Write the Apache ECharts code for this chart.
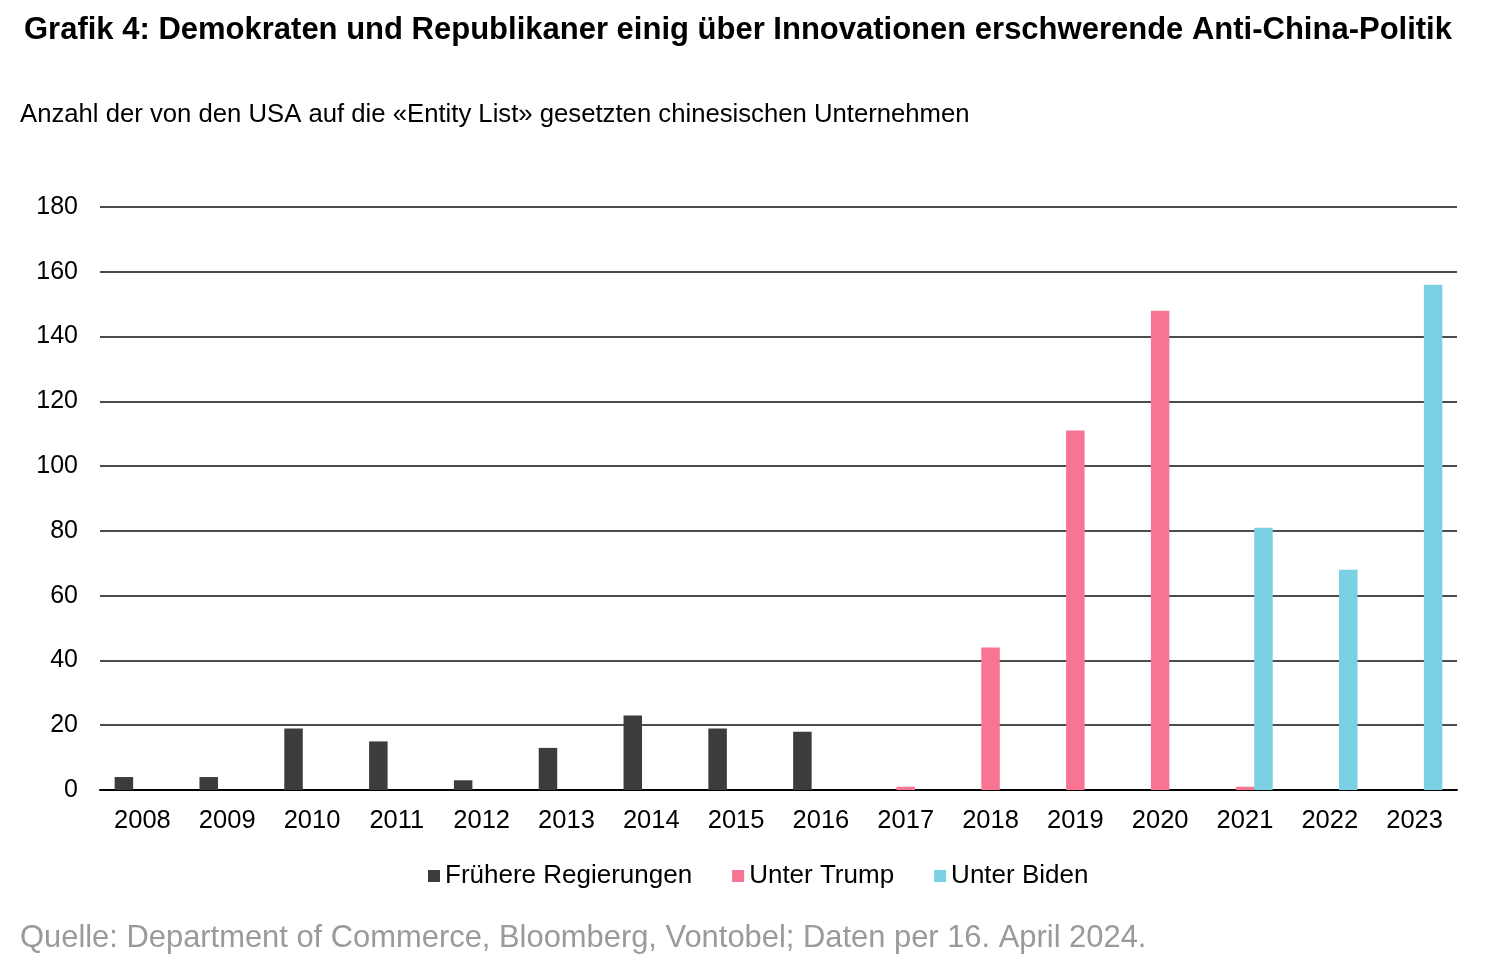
<!DOCTYPE html>
<html>
<head>
<meta charset="utf-8">
<script src="https://cdn.jsdelivr.net/npm/echarts@6/dist/echarts.min.js"></script>
<style>
  html, body { margin: 0; padding: 0; background: #fff; }
  #container { width: 1500px; height: 973px; }
</style>
</head>
<body>
<div id="container"></div>
<script>
// Jahre
var years = ['2008','2009','2010','2011','2012','2013','2014','2015','2016','2017','2018','2019','2020','2021','2022','2023'];
// Frühere Regierungen
var earlier = [4, 4, 19, 15, 3, 13, 23, 19, 18, '-', '-', '-', '-', '-', '-', '-'];
// Unter Trump
var trump = ['-', '-', '-', '-', '-', '-', '-', '-', '-', 1, 44, 111, 148, 1, '-', '-'];
// Unter Biden
var biden = ['-', '-', '-', '-', '-', '-', '-', '-', '-', '-', '-', '-', '-', 81, 68, 156];

var seriesNames = ['Frühere Regierungen', 'Unter Trump', 'Unter Biden'];
var colors = ['#3c3c3b', '#f77493', '#7bd0e3'];

var FONT = 'Liberation Sans, Arial, sans-serif';

var dom = document.getElementById('container');
var myChart = echarts.init(dom, null, { renderer: 'canvas' });

var option = {
    animation: false,
    color: colors,
    textStyle: { fontFamily: FONT },
    title: [
        {
            text: 'Grafik 4: Demokraten und Republikaner einig über Innovationen erschwerende Anti-China-Politik',
            left: 19, top: 10,
            textStyle: { fontFamily: FONT, fontSize: 31, fontWeight: 'bold', color: '#000' }
        },
        {
            text: 'Anzahl der von den USA auf die «Entity List» gesetzten chinesischen Unternehmen',
            left: 15, top: 97,
            textStyle: { fontFamily: FONT, fontSize: 25.7, fontWeight: 'normal', color: '#000' }
        },
        {
            text: 'Quelle: Department of Commerce, Bloomberg, Vontobel; Daten per 16. April 2024.',
            left: 15, top: 918,
            textStyle: { fontFamily: FONT, fontSize: 30.9, fontWeight: 'normal', color: '#9a9a9a' }
        }
    ],
    legend: {
        data: seriesNames,
        left: 423,
        top: 858,
        itemWidth: 12,
        itemHeight: 12,
        itemGap: 40,
        icon: 'rect',
        textStyle: { fontFamily: FONT, fontSize: 26, color: '#000' }
    },
    grid: {
        left: 100, right: 43, top: 207, bottom: 183,
        containLabel: false
    },
    xAxis: {
        type: 'category',
        data: years,
        axisLine: { show: true, lineStyle: { color: '#000', width: 2 } },
        axisTick: { show: false },
        axisLabel: { fontFamily: FONT, fontSize: 25.5, color: '#000', margin: 18 }
    },
    yAxis: {
        type: 'value',
        min: 0, max: 180, interval: 20,
        axisLine: { show: false },
        axisTick: { show: false },
        axisLabel: { fontFamily: FONT, fontSize: 25, color: '#000', margin: 22 },
        splitLine: { show: true, lineStyle: { color: '#111', width: 1.6 } }
    },
    series: [
        { name: seriesNames[0], type: 'bar', data: earlier, barWidth: 18.5, barGap: '0%', itemStyle: { color: colors[0] } },
        { name: seriesNames[1], type: 'bar', data: trump, barWidth: 18.5, barGap: '0%', itemStyle: { color: colors[1] } },
        { name: seriesNames[2], type: 'bar', data: biden, barWidth: 18.5, barGap: '0%', itemStyle: { color: colors[2] } }
    ]
};
myChart.setOption(option, true);
</script>
</body>
</html>
